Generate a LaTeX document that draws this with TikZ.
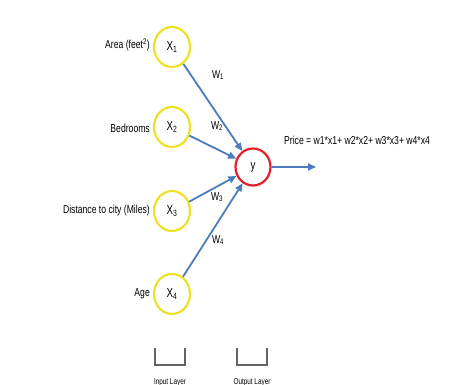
\documentclass[tikz,border=0pt]{standalone}
\usepackage{fontspec}
\setmainfont{Liberation Sans}[FakeStretch=0.75]
\usetikzlibrary{shapes.geometric,arrows.meta}
\definecolor{arrowblue}{RGB}{74,124,190}
\definecolor{inyellow}{RGB}{238,226,40}
\definecolor{outred}{RGB}{226,30,40}
\definecolor{brgray}{RGB}{100,100,100}
\begin{document}
\begin{tikzpicture}[x=1pt,y=-1pt,
  inode/.style={draw=inyellow,line width=2.2pt,ellipse,minimum width=36pt,minimum height=40pt,inner sep=0pt,font=\fontsize{13}{14}\selectfont},
  onode/.style={draw=outred,line width=2.2pt,ellipse,minimum width=35pt,minimum height=37pt,inner sep=0pt,font=\fontsize{13}{14}\selectfont},
  feat/.style={anchor=east,font=\fontsize{11.5}{13}\selectfont,inner sep=0pt},
  wlab/.style={font=\fontsize{11.5}{13}\selectfont,inner sep=0pt},
  conn/.style={draw=arrowblue,line width=1.8pt,-{Triangle[length=8pt,width=7pt]}},
  brk/.style={draw=brgray,line width=1.8pt},
  layl/.style={font=\fontsize{8.5}{9}\selectfont,inner sep=0pt}]
\useasboundingbox (0,0) rectangle (476,385);
\node[inode] (x1) at (172,47) {X\textsubscript{1}};
\node[inode] (x2) at (172,127) {X\textsubscript{2}};
\node[inode] (x3) at (172,211) {X\textsubscript{3}};
\node[inode] (x4) at (172,294) {X\textsubscript{4}};
\node[onode] (y) at (253,167) {y};
\node[feat] (l1) at (150,45) {Area (feet\textsuperscript{2})};
\node[feat] (l2) at (150,128) {Bedrooms};
\node[feat] (l3) at (150,211) {Distance to city (Miles)};
\node[feat] (l4) at (150,294) {Age};
\draw[conn] (x1) -- (y);
\draw[conn] (x2) -- (y);
\draw[conn] (x3) -- (y);
\draw[conn] (x4) -- (y);
\coordinate (out) at (316,167);
\draw[conn] (y) -- (out);
\node[wlab] (w1) at (218,75) {W\textsubscript{1}};
\node[wlab] (w2) at (217,126) {W\textsubscript{2}};
\node[wlab] (w3) at (217,197) {W\textsubscript{3}};
\node[wlab] (w4) at (218,240) {W\textsubscript{4}};
\node[anchor=west,font=\fontsize{11.5}{13}\selectfont,inner sep=0pt] (price) at (284,140) {Price = w1*x1+ w2*x2+ w3*x3+ w4*x4};
\draw[brk] (155,348) -- (155,365) -- (185,365) -- (185,348);
\draw[brk] (237,348) -- (237,365) -- (267,365) -- (267,348);
\node[layl] (il) at (170,382) {Input Layer};
\node[layl] (ol) at (252,382) {Output Layer};
\end{tikzpicture}
\end{document}
